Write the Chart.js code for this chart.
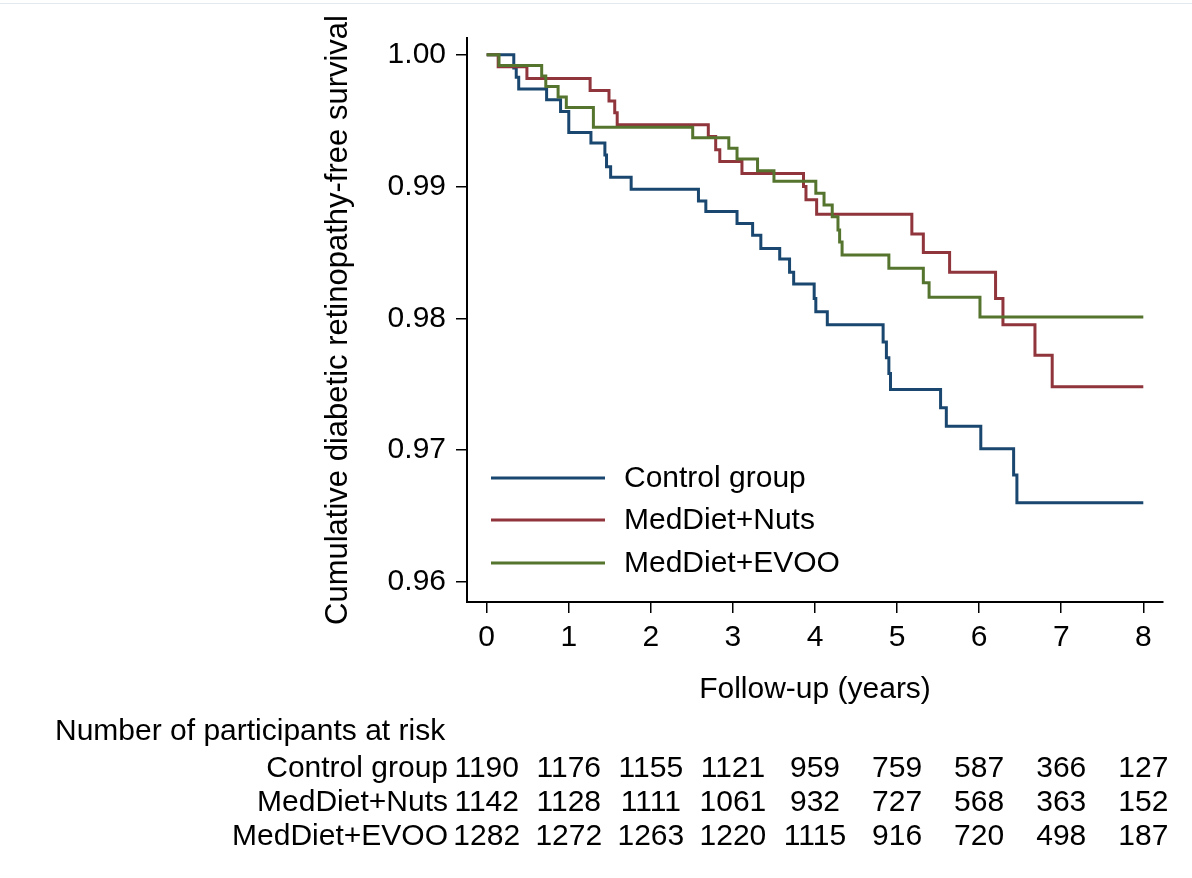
<!DOCTYPE html>
<html>
<head>
<meta charset="utf-8">
<title>Diabetic retinopathy-free survival</title>
<script src="https://cdn.jsdelivr.net/npm/chart.js@4.4.1/dist/chart.umd.min.js"></script>
<style>
  html, body { margin: 0; padding: 0; background: #fff; }
  #wrap { position: relative; width: 1192px; height: 878px; }
  #topline { position: absolute; left: 0; top: 3px; width: 1192px; height: 1px; background: #e4e9ee; }
  canvas { display: block; }
</style>
</head>
<body>
<div id="wrap">
  <div id="topline"></div>
  <canvas id="kmChart" width="1192" height="878" style="width:1192px;height:878px"></canvas>
</div>
<script>
// Kaplan-Meier estimates (time in years, survival)
const groupNames = ["Control group", "MedDiet+Nuts", "MedDiet+EVOO"];

const controlTimes = [0, 0.33, 0.36, 0.39, 0.73, 0.90, 1.00, 1.27, 1.44, 1.46, 1.51, 1.76, 2.58, 2.67, 3.05, 3.24, 3.34, 3.57, 3.69, 3.74, 3.99, 4.01, 4.15, 4.83, 4.87, 4.90, 4.92, 5.53, 5.60, 6.02, 6.42, 6.46, 8.0];
const controlSurv = [1.0000, 0.9990, 0.9983, 0.9974, 0.9966, 0.9957, 0.9941, 0.9933, 0.9924, 0.9915, 0.9907, 0.9898, 0.9889, 0.9881, 0.9872, 0.9863, 0.9853, 0.9845, 0.9835, 0.9826, 0.9815, 0.9805, 0.9795, 0.9782, 0.9770, 0.9758, 0.9746, 0.9732, 0.9718, 0.9701, 0.9681, 0.9660, 0.9660];

const nutsTimes = [0, 0.14, 0.49, 1.26, 1.49, 1.56, 1.59, 2.70, 2.79, 2.84, 3.11, 3.86, 3.89, 4.02, 5.18, 5.32, 5.64, 6.20, 6.29, 6.68, 6.89, 8.0];
const nutsSurv = [1.0000, 0.9991, 0.9982, 0.9973, 0.9965, 0.9956, 0.9947, 0.9938, 0.9928, 0.9919, 0.9910, 0.9900, 0.9890, 0.9879, 0.9864, 0.9850, 0.9835, 0.9815, 0.9795, 0.9772, 0.9748, 0.9748];

const evooTimes = [0, 0.15, 0.67, 0.72, 0.87, 0.97, 1.30, 2.51, 2.95, 3.05, 3.30, 3.50, 4.01, 4.11, 4.21, 4.28, 4.30, 4.33, 4.90, 5.32, 5.39, 6.01, 8.0];
const evooSurv = [1.0000, 0.9992, 0.9984, 0.9976, 0.9968, 0.9960, 0.9945, 0.9937, 0.9929, 0.9921, 0.9912, 0.9904, 0.9895, 0.9886, 0.9877, 0.9867, 0.9858, 0.9848, 0.9838, 0.9827, 0.9816, 0.9801, 0.9801];

const xTicks = [0, 1, 2, 3, 4, 5, 6, 7, 8];
const yTicks = [0.96, 0.97, 0.98, 0.99, 1.00];

// number at risk at each x tick
const riskControl = [1190, 1176, 1155, 1121, 959, 759, 587, 366, 127];
const riskNuts = [1142, 1128, 1111, 1061, 932, 727, 568, 363, 152];
const riskEvoo = [1282, 1272, 1263, 1220, 1115, 916, 720, 498, 187];

const FONT = '"Liberation Sans", Arial, Helvetica, sans-serif';
const colors = ["#1a476f", "#90353b", "#55752f"];

function toPoints(times, surv) {
  return times.map((t, i) => ({ x: t, y: surv[i] }));
}

// legend + at-risk table drawn on the canvas after the chart
const extrasPlugin = {
  id: "kmExtras",
  afterDraw(chart) {
    const ctx = chart.ctx;
    const xScale = chart.scales.x;
    ctx.save();

    // legend inside plot area
    const legendY = [478, 520, 563];
    chart.data.datasets.forEach((ds, i) => {
      ctx.strokeStyle = ds.borderColor;
      ctx.lineWidth = 3;
      ctx.beginPath();
      ctx.moveTo(491, legendY[i]);
      ctx.lineTo(605, legendY[i]);
      ctx.stroke();
      ctx.fillStyle = "#000";
      ctx.font = "30px " + FONT;
      ctx.textAlign = "left";
      ctx.textBaseline = "middle";
      ctx.fillText(ds.label, 624, legendY[i] + 1);
    });

    // number at risk
    ctx.fillStyle = "#000";
    ctx.font = "30px " + FONT;
    ctx.textBaseline = "alphabetic";
    ctx.textAlign = "left";
    ctx.fillText("Number of participants at risk", 55, 740);

    const rows = [riskControl, riskNuts, riskEvoo];
    const rowY = [777, 811, 845];
    rows.forEach((row, r) => {
      ctx.textAlign = "right";
      ctx.fillText(groupNames[r], 448, rowY[r]);
      ctx.textAlign = "center";
      row.forEach((n, i) => {
        ctx.fillText(String(n), xScale.getPixelForValue(xTicks[i]), rowY[r]);
      });
    });
    ctx.restore();
  },
};

document.addEventListener("DOMContentLoaded", function () {
  const ctx = document.getElementById("kmChart");
  if (!ctx) return;

  Chart.defaults.font.family = FONT;
  Chart.defaults.color = "#000";

  new Chart(ctx, {
    type: "line",
    data: {
      datasets: [
        {
          label: groupNames[0],
          data: toPoints(controlTimes, controlSurv),
          borderColor: colors[0],
          order: 2,
        },
        {
          label: groupNames[1],
          data: toPoints(nutsTimes, nutsSurv),
          borderColor: colors[1],
          order: 1,
        },
        {
          label: groupNames[2],
          data: toPoints(evooTimes, evooSurv),
          borderColor: colors[2],
          order: 0,
        },
      ].map((d) => Object.assign(d, {
        stepped: "before",
        borderWidth: 3,
        pointRadius: 0,
        fill: false,
      })),
    },
    options: {
      responsive: false,
      animation: false,
      layout: { padding: { left: 0, top: 38, right: 29, bottom: 156 } },
      plugins: {
        legend: { display: false },
        tooltip: { enabled: false },
      },
      scales: {
        x: {
          type: "linear",
          min: -0.24,
          max: 8.24,
          afterBuildTicks(scale) {
            scale.ticks = xTicks.map((v) => ({ value: v }));
          },
          afterFit(scale) {
            scale.height = 120;
          },
          ticks: {
            font: { size: 30 },
            padding: 7,
            maxRotation: 0,
            callback: (v) => String(v),
          },
          grid: {
            drawOnChartArea: false,
            drawTicks: true,
            tickLength: 11,
            color: "#000",
            lineWidth: 1.5,
          },
          border: { display: true, color: "#000", width: 2 },
          title: {
            display: true,
            text: "Follow-up (years)",
            font: { size: 30 },
            padding: { top: 0, bottom: 14 },
          },
        },
        y: {
          type: "linear",
          min: 0.958459,
          max: 1.00128,
          afterBuildTicks(scale) {
            scale.ticks = yTicks.map((v) => ({ value: v }));
          },
          afterFit(scale) {
            scale.width = 467;
          },
          ticks: {
            font: { size: 30 },
            padding: 10,
            callback: (v) => Number(v).toFixed(2),
          },
          grid: {
            drawOnChartArea: false,
            drawTicks: true,
            tickLength: 11,
            color: "#000",
            lineWidth: 1.5,
          },
          border: { display: true, color: "#000", width: 2 },
          title: {
            display: true,
            text: "Cumulative diabetic retinopathy-free survival",
            font: { size: 31 },
            padding: { top: 320, bottom: 0 },
          },
        },
      },
    },
    plugins: [extrasPlugin],
  });
});
</script>
</body>
</html>
